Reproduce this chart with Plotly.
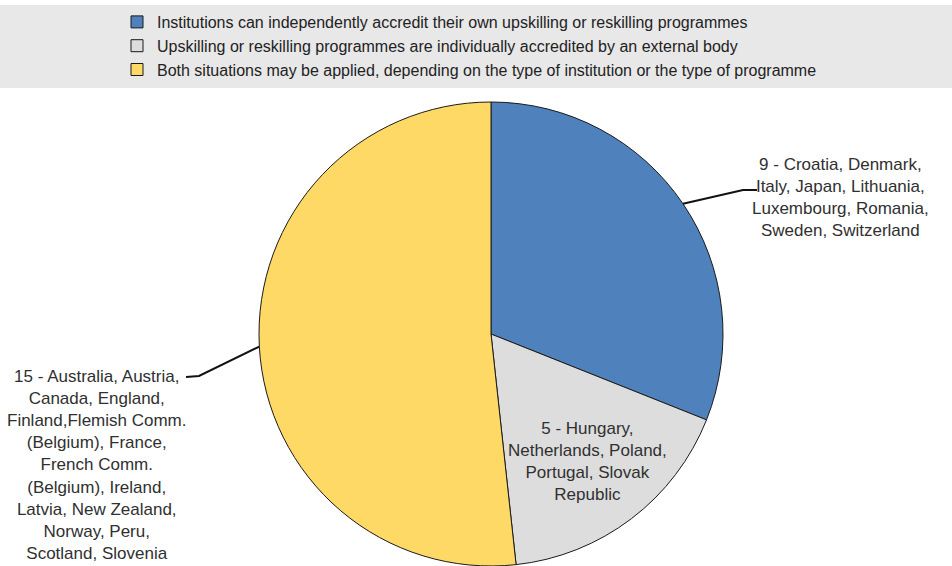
import math
import plotly.graph_objects as go

# Accreditation arrangements for upskilling / reskilling programmes
categories = [
    "Institutions can independently accredit their own upskilling or reskilling programmes",
    "Upskilling or reskilling programmes are individually accredited by an external body",
    "Both situations may be applied, depending on the type of institution or the type of programme",
]
counts = [9, 5, 15]
systems = [
    "Croatia, Denmark,<br>Italy, Japan, Lithuania,<br>Luxembourg, Romania,<br>Sweden, Switzerland",
    "Hungary,<br>Netherlands, Poland,<br>Portugal, Slovak<br>Republic",
    "Australia, Austria,<br>Canada, England,<br>Finland,Flemish Comm.<br>(Belgium), France,<br>French Comm.<br>(Belgium), Ireland,<br>Latvia, New Zealand,<br>Norway, Peru,<br>Scotland, Slovenia",
]
colors = ["#4F81BD", "#DDDDDD", "#FFD966"]

W, H = 952, 566
# pie placement (pixels)
CX, CY, R = 491, 334, 232

fig = go.Figure(
    go.Pie(
        labels=categories,
        values=counts,
        sort=False,
        direction="clockwise",
        rotation=0,
        textinfo="none",
        hoverinfo="label+value",
        marker=dict(colors=colors, line=dict(color="#1a1a1a", width=1)),
        domain=dict(x=[(CX - R) / W, (CX + R) / W], y=[(H - CY - R) / H, (H - CY + R) / H]),
    )
)


def px(x, y):
    return x / W, 1 - y / H


def mid_point(i, frac):
    total = sum(counts)
    start = sum(counts[:i])
    ang = math.radians((start + counts[i] / 2) / total * 360)
    return CX + frac * R * math.sin(ang), CY - frac * R * math.cos(ang)


label_font = dict(family="Liberation Sans, Arial, sans-serif", size=17, color="#303030")
annotations = []
shapes = []

# gray band behind the legend
shapes.append(dict(type="rect", xref="paper", yref="paper", x0=0, x1=1,
                   y0=1 - 88 / H, y1=1 - 5 / H, fillcolor="#E8E8E8",
                   line=dict(width=0), layer="below"))


def add_label(i, x, y):
    annotations.append(dict(x=x / W, y=1 - y / H, xref="paper", yref="paper",
                            xanchor="center", yanchor="middle",
                            text=f"{counts[i]} - {systems[i]}", showarrow=False,
                            font=label_font, align="center"))


def add_leader(i, bend, end):
    ex, ey = mid_point(i, 1.0)
    shapes.append(dict(type="path", xref="paper", yref="paper",
                       path="M {} {} L {} {} L {} {}".format(*px(ex, ey), *px(*bend), *px(*end)),
                       line=dict(color="#111111", width=2)))


# label 0: outside right with leader line
add_leader(0, (743, 190), (757, 190))
add_label(0, 840, 197)

# label 1: inside the slice
gx, gy = mid_point(1, 0.69)
add_label(1, gx, gy)

# label 2: outside left with leader line
add_leader(2, (199, 376), (186, 377))
add_label(2, 97, 465)

fig.update_layout(
    width=W, height=H,
    margin=dict(l=0, r=0, t=0, b=0),
    paper_bgcolor="white",
    showlegend=True,
    legend=dict(x=117 / W, y=1 - 5 / H, xanchor="left", yanchor="top",
                bgcolor="rgba(0,0,0,0)", traceorder="normal",
                font=dict(family="Liberation Sans, Arial, sans-serif", size=16, color="#222222")),
    shapes=shapes,
    annotations=annotations,
)

fig.write_html("out.html")
